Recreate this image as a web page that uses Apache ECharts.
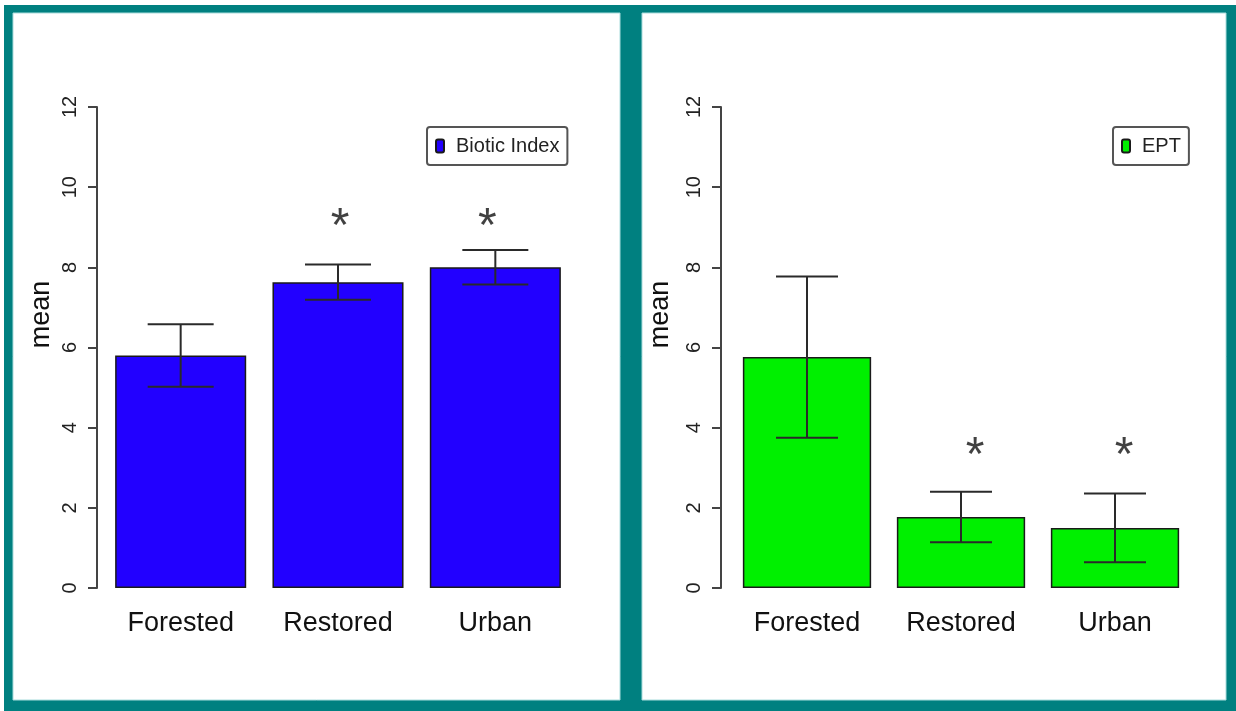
<!DOCTYPE html>
<html>
<head>
<meta charset="utf-8">
<script src="https://cdn.jsdelivr.net/npm/echarts@6/dist/echarts.min.js"></script>
<style>
  html, body { margin: 0; padding: 0; background: #ffffff; }
  #chart { width: 1236px; height: 711px; }
</style>
</head>
<body>
<div id="chart"></div>
<script>
// Site categories shared by both panels
const categories = ['Forested', 'Restored', 'Urban'];

// Biotic Index: mean and standard error per site type
const bioticMean = [5.8, 7.63, 8.0];
const bioticSE = [0.78, 0.44, 0.43];
// height at which the significance marks sit
const bioticStars = [null, 9.3, 9.3];

// EPT richness: mean and standard error per site type
const eptMean = [5.76, 1.77, 1.5];
const eptSE = [2.01, 0.63, 0.86];
const eptStars = [null, 3.55, 3.55];

// y scale shared by both panels
const yMin = 0;
const yMax = 12;
const yStep = 2;

const FONT = '"Liberation Sans", Arial, Helvetica, sans-serif';
const TEAL = '#008080';

function errorData(means, ses) {
  return means.map((m, i) => [i, m - ses[i], m + ses[i]]);
}
function starData(stars) {
  return stars.map((v, i) => (v == null ? null : [i, v])).filter(d => d);
}

function errorBarSeries(idx, means, ses, capHalf) {
  return {
    type: 'custom',
    xAxisIndex: idx,
    yAxisIndex: idx,
    z: 5,
    silent: true,
    data: errorData(means, ses),
    renderItem: function (params, api) {
      const x = api.value(0);
      const lo = api.coord([x, api.value(1)]);
      const hi = api.coord([x, api.value(2)]);
      const st = { stroke: '#2a2a2a', lineWidth: 2 };
      return {
        type: 'group',
        children: [
          { type: 'line', shape: { x1: lo[0], y1: lo[1], x2: hi[0], y2: hi[1] }, style: st },
          { type: 'line', shape: { x1: hi[0] - capHalf, y1: hi[1], x2: hi[0] + capHalf, y2: hi[1] }, style: st },
          { type: 'line', shape: { x1: lo[0] - capHalf, y1: lo[1], x2: lo[0] + capHalf, y2: lo[1] }, style: st }
        ]
      };
    }
  };
}

function starSeries(idx, stars, offsets) {
  return {
    type: 'scatter',
    xAxisIndex: idx,
    yAxisIndex: idx,
    symbolSize: 1,
    itemStyle: { color: 'transparent' },
    silent: true,
    data: starData(stars).map((d, k) => ({
      value: d,
      label: { offset: offsets[k] }
    })),
    label: {
      show: true,
      position: 'inside',
      formatter: '*',
      fontFamily: FONT,
      fontSize: 48,
      color: '#111'
    }
  };
}

function yAxisFor(idx, offset, nameGap) {
  return {
    type: 'value',
    gridIndex: idx,
    min: yMin,
    max: yMax,
    interval: yStep,
    offset: offset,
    name: 'mean',
    nameLocation: 'middle',
    nameRotate: 90,
    nameGap: nameGap,
    nameTextStyle: { fontFamily: FONT, fontSize: 27, color: '#111', padding: [0, 0, 0, 66] },
    axisLine: { show: true, lineStyle: { color: '#444', width: 2 } },
    axisTick: { show: true, length: 9, lineStyle: { color: '#444', width: 2 } },
    axisLabel: { rotate: 90, margin: 17, fontFamily: FONT, fontSize: 20, color: '#222' },
    splitLine: { show: false }
  };
}

function xAxisFor(idx) {
  return {
    type: 'category',
    gridIndex: idx,
    data: categories,
    axisLine: { show: false },
    axisTick: { show: false },
    axisLabel: { margin: 22, fontFamily: FONT, fontSize: 27, color: '#111' }
  };
}

function legendFor(name, left, top) {
  return {
    data: [name],
    left: left,
    top: top,
    orient: 'vertical',
    padding: [9, 8, 9, 8],
    backgroundColor: '#fff',
    borderColor: '#555',
    borderWidth: 2,
    borderRadius: 3,
    itemWidth: 8,
    itemHeight: 13,
    icon: 'roundRect',
    selectedMode: false,
    textStyle: { fontFamily: FONT, fontSize: 20, color: '#222', padding: [0, 0, 0, 7] }
  };
}

const chart = echarts.init(document.getElementById('chart'), null, { renderer: 'canvas' });

chart.setOption({
  animation: false,
  backgroundColor: '#ffffff',
  graphic: [
    { type: 'rect', silent: true, z: -100, shape: { x: 4, y: 5, width: 1232, height: 706 }, style: { fill: TEAL } },
    { type: 'rect', silent: true, z: -99, shape: { x: 13, y: 13, width: 607, height: 687 }, style: { fill: '#fff', stroke: '#a9dcdc', lineWidth: 1 } },
    { type: 'rect', silent: true, z: -99, shape: { x: 642, y: 13, width: 584, height: 687 }, style: { fill: '#fff', stroke: '#a9dcdc', lineWidth: 1 } }
  ],
  grid: [
    { left: 102, top: 107, width: 472, height: 481 },
    { left: 730, top: 107, width: 462, height: 481 }
  ],
  xAxis: [xAxisFor(0), xAxisFor(1)],
  yAxis: [yAxisFor(0, 5, 42), yAxisFor(1, 9, 47)],
  legend: [legendFor('Biotic Index', 427, 127), legendFor('EPT', 1113, 127)],
  series: [
    {
      name: 'Biotic Index',
      type: 'bar',
      xAxisIndex: 0,
      yAxisIndex: 0,
      barCategoryGap: '16.7%',
      data: bioticMean,
      itemStyle: { color: '#2200ff', borderColor: '#1a1a1a', borderWidth: 1.5 }
    },
    errorBarSeries(0, bioticMean, bioticSE, 33),
    starSeries(0, bioticStars, [[2, 13], [-8, 13]]),
    {
      name: 'EPT',
      type: 'bar',
      xAxisIndex: 1,
      yAxisIndex: 1,
      barCategoryGap: '16.7%',
      data: eptMean,
      itemStyle: { color: '#00f000', borderColor: '#1a1a1a', borderWidth: 1.5 }
    },
    errorBarSeries(1, eptMean, eptSE, 31),
    starSeries(1, eptStars, [[14, 11], [9, 11]])
  ]
});
</script>
</body>
</html>
